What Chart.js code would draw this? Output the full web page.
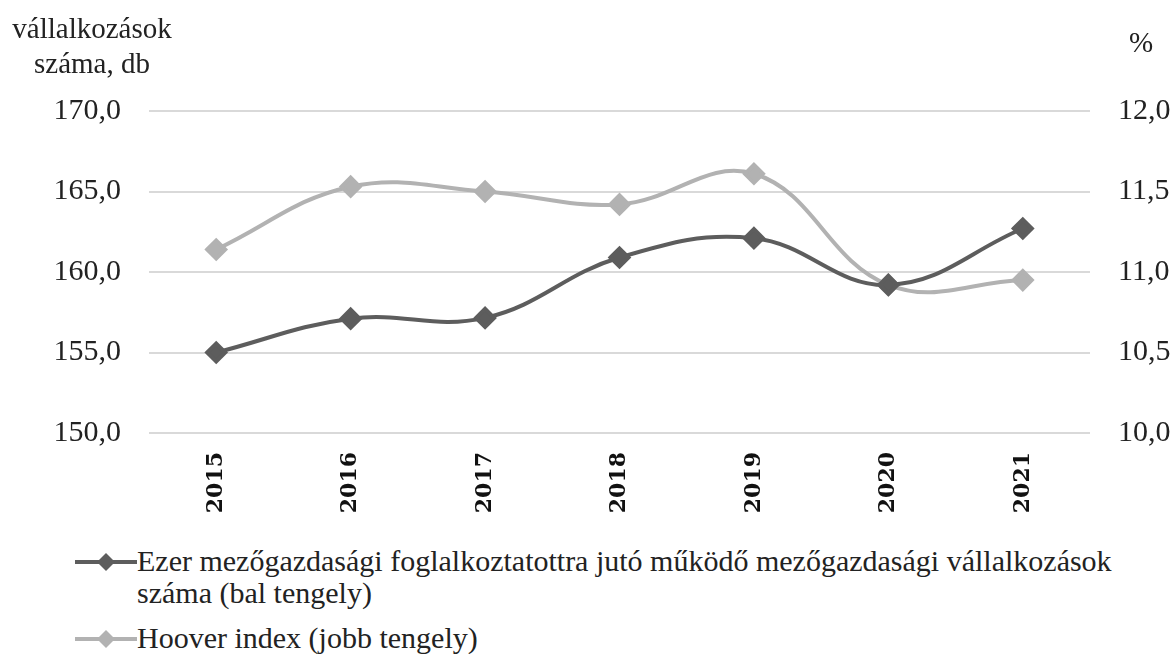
<!DOCTYPE html>
<html>
<head>
<meta charset="utf-8">
<script src="https://cdn.jsdelivr.net/npm/chart.js@4.4.0/dist/chart.umd.min.js"></script>
<style>
  body { margin: 0; background: #fff; }
  #wrap { position: relative; width: 1174px; height: 654px; overflow: hidden; }
  #box { position: absolute; left: 0; top: 0; width: 1174px; height: 530px; }
  #legend { position: absolute; left: 75px; top: 545px; font-family: "Liberation Serif", "Times New Roman", serif; font-size: 30px; color: #222; }
  .item { display: flex; align-items: flex-start; margin-bottom: 13px; }
  .item .txt { width: 1025px; line-height: 32px; }
  .mk { width: 62px; height: 32px; flex: none; }
</style>
</head>
<body>
<div id="wrap">
  <div id="box"><canvas id="myChart"></canvas></div>
  <div id="legend"></div>
</div>
<script>
var years = ["2015", "2016", "2017", "2018", "2019", "2020", "2021"];
var vallalkozasok = [155.0, 157.1, 157.15, 160.9, 162.1, 159.2, 162.7];
var hoover = [11.14, 11.53, 11.5, 11.42, 11.61, 10.92, 10.95];
var seriesNames = ["Ezer mezőgazdasági foglalkoztatottra jutó működő mezőgazdasági vállalkozások száma (bal tengely)", "Hoover index (jobb tengely)"];
var colors = ["#5d5d5d", "#b2b2b2"];
var serif = "'Liberation Serif', 'Times New Roman', serif";

function comma(v) { return v.toFixed(1).replace(".", ","); }

var axisTitles = {
  id: "axisTitles",
  afterDraw: function (chart) {
    var ctx = chart.ctx;
    ctx.save();
    ctx.fillStyle = "#222";
    ctx.font = "29px " + serif;
    ctx.textAlign = "center";
    ctx.fillText("vállalkozások", 92, 38);
    ctx.fillText("száma, db", 92, 73);
    ctx.fillText("%", 1141, 52);
    ctx.restore();
  }
};

new Chart("myChart", {
  type: "line",
  data: {
    labels: years,
    datasets: [{
      label: seriesNames[0],
      data: vallalkozasok,
      yAxisID: "y",
      borderColor: colors[0],
      backgroundColor: colors[0],
      borderWidth: 4,
      pointStyle: "rectRot",
      pointRadius: 9,
      tension: 0.4
    }, {
      label: seriesNames[1],
      data: hoover,
      yAxisID: "y1",
      borderColor: colors[1],
      backgroundColor: colors[1],
      borderWidth: 4,
      pointStyle: "rectRot",
      pointRadius: 9,
      tension: 0.4
    }]
  },
  options: {
    responsive: true,
    maintainAspectRatio: false,
    animation: false,
    layout: { padding: { top: 111, left: 0, right: 0, bottom: 0 } },
    plugins: { legend: { display: false }, tooltip: { enabled: false } },
    scales: {
      x: {
        offset: true,
        grid: { display: false },
        border: { display: false },
        ticks: {
          minRotation: 90, maxRotation: 90, padding: 11, color: "#111",
          font: { family: "DejaVu Serif", size: 22, weight: "bold" }
        },
        afterFit: function (s) { s.height = 97; }
      },
      y: {
        position: "left",
        min: 150, max: 170,
        grid: { color: "#d9d9d9", lineWidth: 2, drawTicks: false },
        border: { display: false },
        ticks: {
          stepSize: 5, padding: 28, color: "#222",
          font: { family: serif, size: 30 },
          callback: function (v) { return comma(v); }
        },
        afterFit: function (s) { s.width = 149; }
      },
      y1: {
        position: "right",
        min: 10, max: 12,
        grid: { display: false, drawTicks: false },
        border: { display: false },
        ticks: {
          stepSize: 0.5, padding: 28, color: "#222",
          font: { family: serif, size: 30 },
          callback: function (v) { return comma(v); }
        },
        afterFit: function (s) { s.width = 84; }
      }
    }
  },
  plugins: [axisTitles]
});

// legend below the chart
var legend = document.getElementById("legend");
seriesNames.forEach(function (name, i) {
  var item = document.createElement("div");
  item.className = "item";
  item.innerHTML = '<svg class="mk" viewBox="0 0 62 32"><line x1="0" y1="17" x2="62" y2="17" stroke="' + colors[i] +
    '" stroke-width="4"/><polygon points="31,8 40,17 31,26 22,17" fill="' + colors[i] + '"/></svg><div class="txt">' + name + '</div>';
  legend.appendChild(item);
});
</script>
</body>
</html>
